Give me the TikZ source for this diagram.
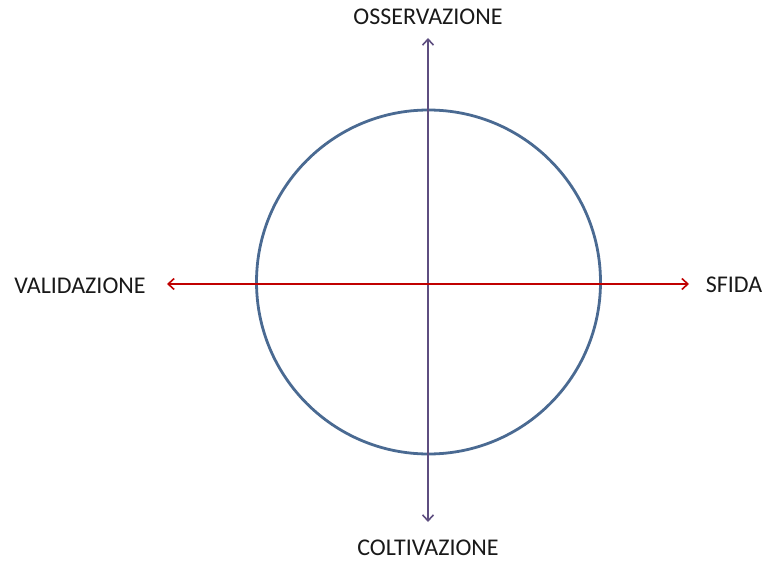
\documentclass[tikz,border=0pt]{standalone}
\usepackage{fontspec}
\setmainfont{Carlito}
\usetikzlibrary{arrows.meta}
\definecolor{circblue}{HTML}{4A6A92}
\definecolor{axred}{HTML}{C00000}
\definecolor{axpurple}{HTML}{5E4E80}
\tikzset{
  lbl/.style={font=\fontsize{24}{28}\selectfont, text=black!90, inner sep=0pt},
  axis/.style={line width=1.6pt, {Straight Barb[length=6pt,width=11pt,line width=1.6pt]}-{Straight Barb[length=6pt,width=11pt,line width=1.6pt]}}
}
\begin{document}
\begin{tikzpicture}[x=1pt,y=-1pt]
\useasboundingbox (0,0) rectangle (770,561);
\node[circle, draw=circblue, line width=2.8pt, minimum size=344pt, inner sep=0pt] (c) at (428.5,282) {};
\coordinate (top) at (428,38);
\coordinate (bot) at (428,522);
\coordinate (lft) at (167,284);
\coordinate (rgt) at (689,284);
\draw[axis, axpurple] (bot) -- (top);
\draw[axis, axred] (lft) -- (rgt);
\node[lbl] (o) at (428,17) {OSSERVAZIONE};
\node[lbl] (k) at (428,548) {COLTIVAZIONE};
\node[lbl] (v) at (80,286) {VALIDAZIONE};
\node[lbl] (s) at (734,285) {SFIDA};
\end{tikzpicture}
\end{document}
